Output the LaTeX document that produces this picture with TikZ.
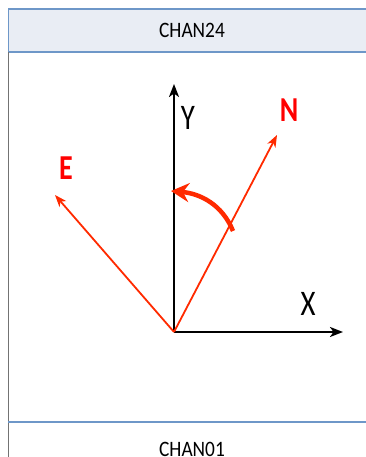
\documentclass[tikz,border=0pt]{standalone}
\usepackage{fontspec}
\setmainfont{Carlito}
\usepackage{xcolor}
\usetikzlibrary{arrows.meta, positioning}
\definecolor{hdrfill}{HTML}{E9EDF4}
\definecolor{hdrline}{HTML}{6E97C8}
\definecolor{vecred}{HTML}{FF2A00}
\tikzset{
  axisarrow/.style={-{Stealth[length=13pt,width=10pt,inset=3.5pt]},line width=2.2pt,black},
  vecarrow/.style={-{Stealth[length=12pt,width=9pt,inset=3.5pt]},line width=1.8pt,vecred},
  rotarrow/.style={-{Stealth[length=18pt,width=19pt,inset=6pt]},line width=4.5pt,vecred},
  axislabel/.style={font=\fontsize{36}{36}\selectfont,inner sep=0pt,xscale=0.8},
  veclabel/.style={axislabel,font=\fontsize{35}{35}\selectfont\bfseries,red},
  chanlabel/.style={font=\fontsize{22}{22}\selectfont,inner sep=0pt,xscale=0.88},
}
\begin{document}
\begin{tikzpicture}[x=1pt,y=1pt]
  \useasboundingbox (0,0) rectangle (366,457);
  % ---- channel frame ----
  \fill[hdrfill] (8,405) rectangle (372,448);
  \draw[hdrline,line width=2.4pt] (8,448) -- (372,448);
  \draw[hdrline,line width=2.4pt] (8,405) -- (372,405);
  \draw[hdrline,line width=1pt] (8,405) -- (8,448);
  \draw[black!55,line width=1pt] (8,405) -- (8,0);
  \draw[hdrline,line width=2.4pt] (8,35) -- (372,35);
  \node[chanlabel] (top) at (192,427) {CHAN24};
  \node[chanlabel] (bot) at (192,8) {CHAN01};
  % ---- axes and rotated vectors ----
  \coordinate (O) at (174,125);
  \coordinate (Ytip) at (174,373);
  \coordinate (Xtip) at (343,125);
  \coordinate (Ntip) at (277,322);
  \coordinate (Etip) at (55,262);
  \draw[axisarrow] (O) -- (Ytip);
  \draw[axisarrow] (O) -- (Xtip);
  \draw[vecarrow] (O) -- (Ntip);
  \draw[vecarrow] (O) -- (Etip);
  \node[axislabel] (Ylab) at (188,339) {Y};
  \node[axislabel] (Xlab) at (308,153) {X};
  \node[veclabel] (Nlab) at (289,347) {N};
  \node[veclabel] (Elab) at (66,289) {E};
  % rotation from N back onto Y
  \coordinate (rs) at (233,226);
  \coordinate (re) at (171,266);
  \draw[rotarrow] (rs) to[out=112,in=-5] (re);
\end{tikzpicture}
\end{document}
